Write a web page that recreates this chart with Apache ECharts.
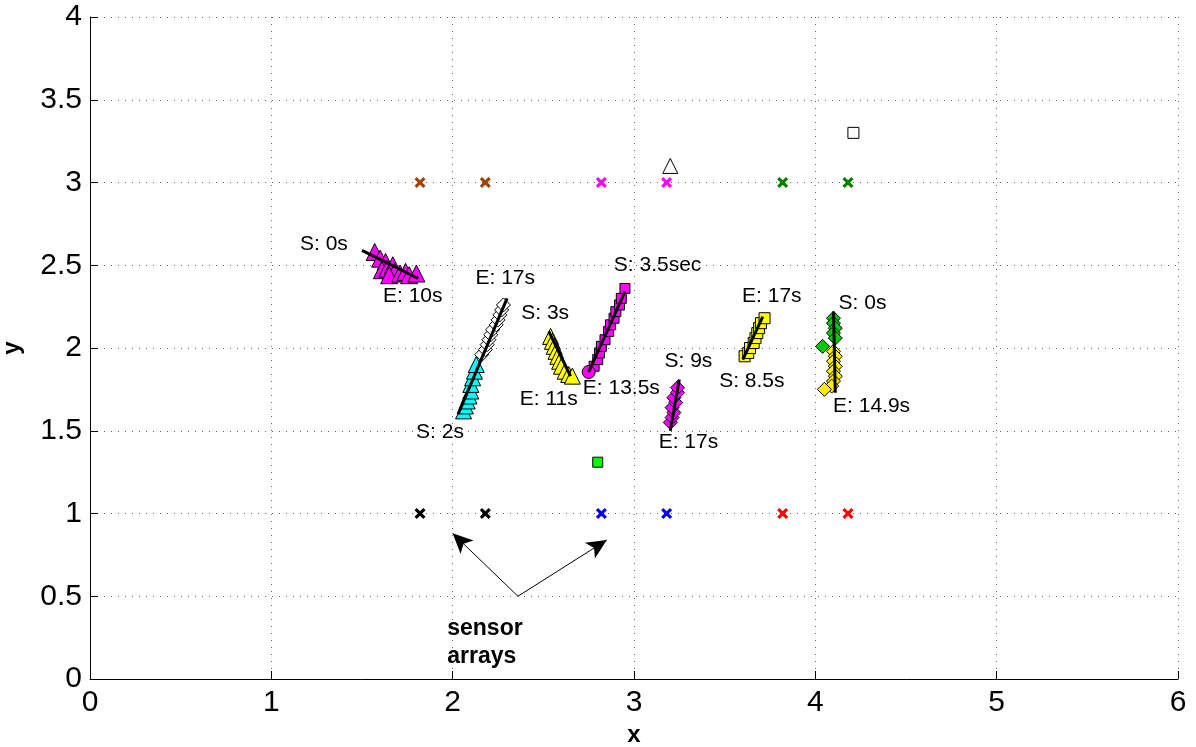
<!DOCTYPE html>
<html>
<head>
<meta charset="utf-8">
<script src="https://cdn.jsdelivr.net/npm/echarts@6/dist/echarts.min.js"></script>
<style>html,body{margin:0;padding:0;background:#fff}#c{width:1196px;height:747px}</style>
</head>
<body>
<div id="c"></div>
<script>
// Sensor arrays (x marks)
const sensorBrown = [[1.82,3],[2.18,3]];
const sensorMagenta = [[2.82,3],[3.18,3]];
const sensorGreen = [[3.82,3],[4.18,3]];
const sensorBlack = [[1.82,1],[2.18,1]];
const sensorBlue = [[2.82,1],[3.18,1]];
const sensorRed = [[3.82,1],[4.18,1]];

// Isolated markers
const openTriangle = [[3.20,3.10]];
const openSquare = [[4.21,3.30]];
const greenSquare = [[2.80,1.31]];

// Track 1: magenta triangles
const track1Pts = [[1.57,2.58],[1.60,2.54],[1.63,2.52],[1.61,2.47],[1.64,2.48],[1.67,2.50],[1.68,2.46],[1.65,2.44],[1.71,2.45],[1.74,2.46],[1.76,2.44],[1.80,2.45]];
const track1Line = [[1.50,2.59],[1.81,2.42]];
// Track 2: cyan triangles + white diamonds
const track2Cyan = [[2.06,1.62],[2.07,1.65],[2.08,1.68],[2.09,1.71],[2.10,1.74],[2.10,1.78],[2.11,1.82],[2.12,1.86],[2.13,1.90]];
const track2White = [[2.16,1.96],[2.18,1.99],[2.19,2.02],[2.20,2.05],[2.21,2.08],[2.22,2.11],[2.24,2.14],[2.25,2.17],[2.26,2.20],[2.27,2.23],[2.28,2.26]];
const track2Line = [[2.03,1.60],[2.30,2.30]];
// Track 3: yellow triangles
const track3Pts = [[2.54,2.07],[2.55,2.04],[2.56,2.01],[2.57,1.98],[2.58,1.95],[2.59,1.92],[2.60,1.89],[2.62,1.86],[2.64,1.84],[2.66,1.83]];
const track3Line = [[2.53,2.10],[2.65,1.83]];
// Track 4: magenta squares + circle
const track4Circle = [[2.75,1.855]];
const track4Pts = [[2.78,1.89],[2.80,1.93],[2.81,1.97],[2.82,2.01],[2.84,2.05],[2.86,2.10],[2.87,2.14],[2.89,2.18],[2.90,2.22],[2.92,2.26],[2.93,2.30],[2.95,2.36]];
const track4Line = [[2.75,1.855],[2.95,2.34]];
// Track 5: magenta diamonds
const track5Pts = [[3.20,1.55],[3.21,1.58],[3.22,1.61],[3.21,1.64],[3.23,1.67],[3.22,1.70],[3.24,1.73],[3.24,1.76]];
const track5Line = [[3.25,1.81],[3.20,1.50]];
// Track 6: yellow squares
const track6Pts = [[3.61,1.95],[3.63,1.97],[3.64,2.00],[3.66,2.03],[3.67,2.06],[3.68,2.09],[3.69,2.12],[3.70,2.15],[3.72,2.18]];
const track6Line = [[3.60,1.93],[3.71,2.19]];
// Track 7: green -> yellow diamonds
const track7Green = [[4.10,2.18],[4.10,2.15],[4.11,2.12],[4.10,2.09],[4.11,2.06],[4.04,2.01]];
const track7Yellow = [[4.10,1.98],[4.11,1.95],[4.10,1.92],[4.11,1.89],[4.10,1.86],[4.11,1.83],[4.10,1.80],[4.09,1.77],[4.05,1.75]];
const track7Line = [[4.10,2.22],[4.11,1.73]];

// Annotations
const labelTexts = ['S: 0s','E: 10s','E: 17s','S: 2s','S: 3s','E: 11s','S: 3.5sec','E: 13.5s','S: 9s','E: 17s','E: 17s','S: 8.5s','S: 0s','E: 14.9s'];
const labelX = [1.29,1.78,2.29,1.93,2.51,2.53,3.13,2.93,3.30,3.30,3.76,3.65,4.26,4.31];
const labelY = [2.63,2.31,2.42,1.49,2.21,1.69,2.50,1.76,1.92,1.43,2.31,1.80,2.27,1.65];
const noteText = 'sensor\narrays';
const notePos = [1.97,0.22];
const arrowFrom = [2.36,0.50];
const arrowTo1 = [2.00,0.88];
const arrowTo2 = [2.85,0.84];

const xTicks = [0,1,2,3,4,5,6];
const yTicks = [0,0.5,1,1.5,2,2.5,3,3.5,4];

const FONT = 'Liberation Sans, Arial, Helvetica, sans-serif';
const xShape = 'path://M2,0 L5,3 L8,0 L10,2 L7,5 L10,8 L8,10 L5,7 L2,10 L0,8 L3,5 L0,2 Z';

function sensor(data, color) {
  return {type:'scatter', data, symbol:xShape, symbolSize:11, itemStyle:{color, opacity:1}, z:5};
}
function marks(data, symbol, color, size) {
  return {type:'scatter', data, symbol, symbolSize:size, itemStyle:{color, opacity:1, borderColor:'#000', borderWidth:1}, z:4};
}
function trackLine(data) {
  return {type:'line', data, symbol:'none', lineStyle:{color:'#000', width:3}, z:6};
}

const chart = echarts.init(document.getElementById('c'), null, {renderer:'canvas'});
const labelData = labelTexts.map((t,i)=>({value:[labelX[i],labelY[i]], name:t}));

chart.setOption({
  animation:false,
  grid:{left:90, right:18, top:17, bottom:68, outerBoundsMode:'none', containLabel:false},
  xAxis:{type:'value', min:0, max:6, interval:1, name:'x', nameLocation:'middle', nameGap:44,
    nameTextStyle:{fontFamily:FONT, fontSize:24, fontWeight:'bold', color:'#000'},
    axisLine:{lineStyle:{color:'#000', width:1}}, axisTick:{inside:true, length:8, lineStyle:{color:'#000'}},
    axisLabel:{fontFamily:FONT, fontSize:30, color:'#000', margin:9, formatter:v=>xTicks.includes(v)?String(v):''},
    splitLine:{show:true, lineStyle:{type:[1,6], color:'#666', width:1}}},
  yAxis:{type:'value', min:0, max:4, interval:0.5, name:'y', nameLocation:'middle', nameGap:66,
    nameTextStyle:{fontFamily:FONT, fontSize:24, fontWeight:'bold', color:'#000'},
    axisLine:{show:true, lineStyle:{color:'#000', width:1}}, axisTick:{show:true, inside:true, length:8, lineStyle:{color:'#000'}},
    axisLabel:{fontFamily:FONT, fontSize:30, color:'#000', margin:8, formatter:v=>yTicks.includes(v)?String(v):''},
    splitLine:{show:true, lineStyle:{type:[1,6], color:'#666', width:1}}},
  series:[
    sensor(sensorBrown,'#a0400a'), sensor(sensorMagenta,'#ff00ff'), sensor(sensorGreen,'#007f00'),
    sensor(sensorBlack,'#000000'), sensor(sensorBlue,'#0000ff'), sensor(sensorRed,'#ff0000'),
    marks(openTriangle,'triangle','#ffffff',15),
    marks(openSquare,'rect','#ffffff',11),
    marks(greenSquare,'rect','#00ff00',10),
    marks(track1Pts,'triangle','#ff00ff',17),
    marks(track2Cyan,'triangle','#00ffff',16),
    marks(track2White,'diamond','#ffffff',14),
    marks(track3Pts,'triangle','#ffff00',16),
    marks(track4Pts,'rect','#ff00ff',10),
    marks(track4Circle,'circle','#ff00ff',13),
    marks(track5Pts,'diamond','#ff00ff',14),
    marks(track6Pts,'rect','#ffff00',11),
    marks(track7Green,'diamond','#00cc00',14),
    marks(track7Yellow,'diamond','#ffee00',14),
    trackLine(track1Line), trackLine(track2Line), trackLine(track3Line), trackLine(track4Line),
    trackLine(track5Line), trackLine(track6Line), trackLine(track7Line),
    {type:'scatter', data:labelData, symbolSize:0, z:8, itemStyle:{opacity:1},
      label:{show:true, position:'inside', formatter:p=>p.name, fontFamily:FONT, fontSize:21, color:'#000'}},
    {type:'scatter', data:[{value:notePos, name:noteText}], symbolSize:0, z:8, itemStyle:{opacity:1},
      label:{show:true, position:'inside', align:'left', formatter:p=>p.name, fontFamily:FONT, fontSize:23, fontWeight:'bold', color:'#000', lineHeight:28},
      markLine:{silent:true, symbol:['none','arrow'], symbolSize:[14,20], label:{show:false},
        lineStyle:{color:'#000', width:1, type:'solid'},
        data:[[{coord:arrowFrom},{coord:arrowTo1}],[{coord:arrowFrom},{coord:arrowTo2}]]}}
  ]
});
</script>
</body>
</html>
